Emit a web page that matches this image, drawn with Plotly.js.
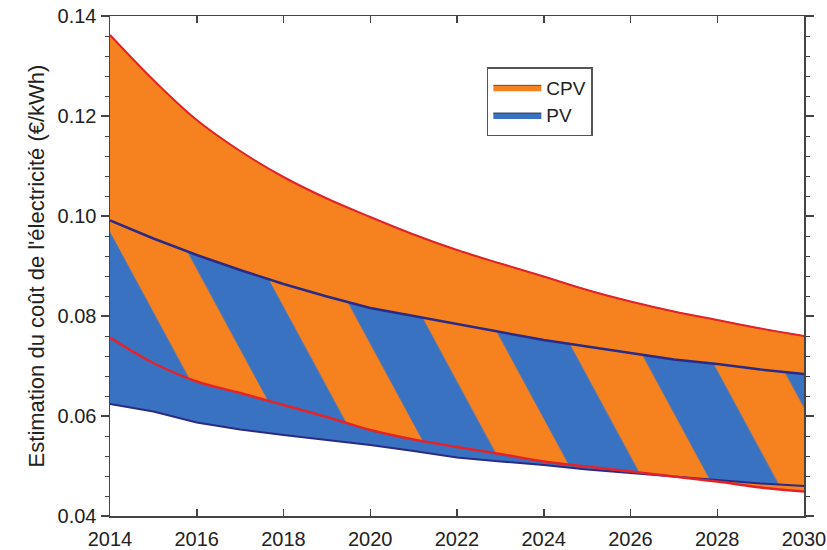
<!DOCTYPE html>
<html>
<head>
<meta charset="utf-8">
<script src="https://cdn.plot.ly/plotly-3.0.1.min.js"></script>
<style>
  body { margin: 0; background: #fff; }
  #c1 { width: 827px; height: 550px; }
</style>
</head>
<body>
<div id="c1"></div>
<script>
// years and estimated costs (€/kWh)
var years = [2014, 2015, 2016, 2017, 2018, 2019, 2020, 2021, 2022, 2023, 2024, 2025, 2026, 2027, 2028, 2029, 2030];
var cpvHigh = [0.1362, 0.1272, 0.1192, 0.1130, 0.1078, 0.1035, 0.0998, 0.0963, 0.0932, 0.0905, 0.0879, 0.0852, 0.0829, 0.0809, 0.0792, 0.0775, 0.0760];
var cpvLow = [0.0757, 0.0706, 0.0669, 0.0646, 0.0622, 0.0598, 0.0572, 0.0553, 0.0538, 0.0524, 0.0509, 0.0499, 0.0489, 0.0479, 0.0469, 0.0457, 0.0449];
var pvHigh = [0.0991, 0.0955, 0.0922, 0.0892, 0.0864, 0.0839, 0.0816, 0.0800, 0.0784, 0.0767, 0.0752, 0.0739, 0.0726, 0.0713, 0.0704, 0.0693, 0.0684];
var pvLow = [0.0624, 0.0609, 0.0587, 0.0573, 0.0562, 0.0552, 0.0542, 0.0530, 0.0517, 0.0509, 0.0502, 0.0493, 0.0486, 0.0479, 0.0472, 0.0465, 0.0460];
var names = ['CPV', 'PV'];

var orange = '#f6821f';
var blue = '#3a72c2';
var red = '#e42329';
var navy = '#2b2a84';

// overlap of the two bands (striped)
var ovLow = [];
var ovHigh = [];
for (var i = 0; i < years.length; i++) {
	ovLow.push(Math.max(cpvLow[i], pvLow[i]));
	ovHigh.push(Math.min(cpvHigh[i], pvHigh[i]));
}

var data = [
	{x: years, y: cpvLow, mode: 'lines', line: {width: 0, shape: 'spline'}, showlegend: false, hoverinfo: 'skip'},
	{x: years, y: cpvHigh, name: names[0], mode: 'lines', fill: 'tonexty', fillcolor: orange,
		line: {width: 1, color: '#6b4a2a', shape: 'spline'}},
	{x: years, y: pvLow, mode: 'lines', line: {width: 0}, showlegend: false, hoverinfo: 'skip'},
	{x: years, y: pvHigh, name: names[1], mode: 'lines', fill: 'tonexty', fillcolor: blue,
		line: {width: 1, color: '#333a55'}},
	{x: years, y: ovLow, mode: 'lines', line: {width: 0}, showlegend: false, hoverinfo: 'skip'},
	{x: years, y: ovHigh, mode: 'lines', fill: 'tonexty', line: {width: 0}, showlegend: false,
		fillpattern: {shape: '\\', size: 94.1, solidity: 0.5, fgcolor: orange, bgcolor: blue, fillmode: 'replace'}},
	{x: years, y: cpvHigh, mode: 'lines', line: {width: 2, color: red, shape: 'spline'}, showlegend: false},
	{x: years, y: pvLow, mode: 'lines', line: {width: 2, color: navy}, showlegend: false},
	{x: years, y: cpvLow, mode: 'lines', line: {width: 2.5, color: red, shape: 'spline'}, showlegend: false},
	{x: years, y: pvHigh, mode: 'lines', line: {width: 2.5, color: navy}, showlegend: false}
];

var layout = {
	width: 827,
	height: 550,
	margin: {l: 110, r: 23, t: 16, b: 34},
	paper_bgcolor: '#fff',
	plot_bgcolor: '#fff',
	font: {family: 'Liberation Sans, Arial, sans-serif', size: 20, color: '#222'},
	showlegend: true,
	legend: {
		x: 0.543, y: 0.898, xanchor: 'left', yanchor: 'top',
		traceorder: 'normal',
		bgcolor: '#fff', bordercolor: '#555', borderwidth: 1.5,
		font: {size: 19, color: '#222'},
		itemwidth: 48,
		entrywidth: 76
	},
	xaxis: {
		range: [2014, 2030],
		tick0: 2014,
		dtick: 2,
		ticks: 'inside',
		ticklen: 7,
		tickwidth: 1.5,
		tickcolor: '#444',
		showline: true,
		linecolor: '#444',
		linewidth: 1.5,
		mirror: 'ticks',
		showgrid: false,
		zeroline: false,
		ticklabelstandoff: 4
	},
	yaxis: {
		range: [0.04, 0.14],
		tick0: 0.04,
		dtick: 0.02,
		tickformat: '.2f',
		ticks: 'outside',
		ticklen: 8,
		tickwidth: 1.5,
		tickcolor: '#444',
		minor: {dtick: 0.004, ticks: 'outside', ticklen: 4, tickwidth: 1, tickcolor: '#444'},
		showline: true,
		linecolor: '#444',
		linewidth: 1.5,
		mirror: 'ticks',
		showgrid: false,
		zeroline: false,
		title: {text: "Estimation du coût de l'électricité (€/kWh)", font: {size: 22, color: '#222'}, standoff: 7}
	}
};

Plotly.newPlot('c1', data, layout, {staticPlot: true}).then(function(gd) {
	// tilt the stripes steeper than 45 degrees, as in the original figure
	var pats = gd.querySelectorAll('pattern');
	for (var j = 0; j < pats.length; j++) {
		pats[j].setAttribute('patternTransform', 'translate(49.7,0) scale(1,1.85)');
	}
});
</script>
</body>
</html>
